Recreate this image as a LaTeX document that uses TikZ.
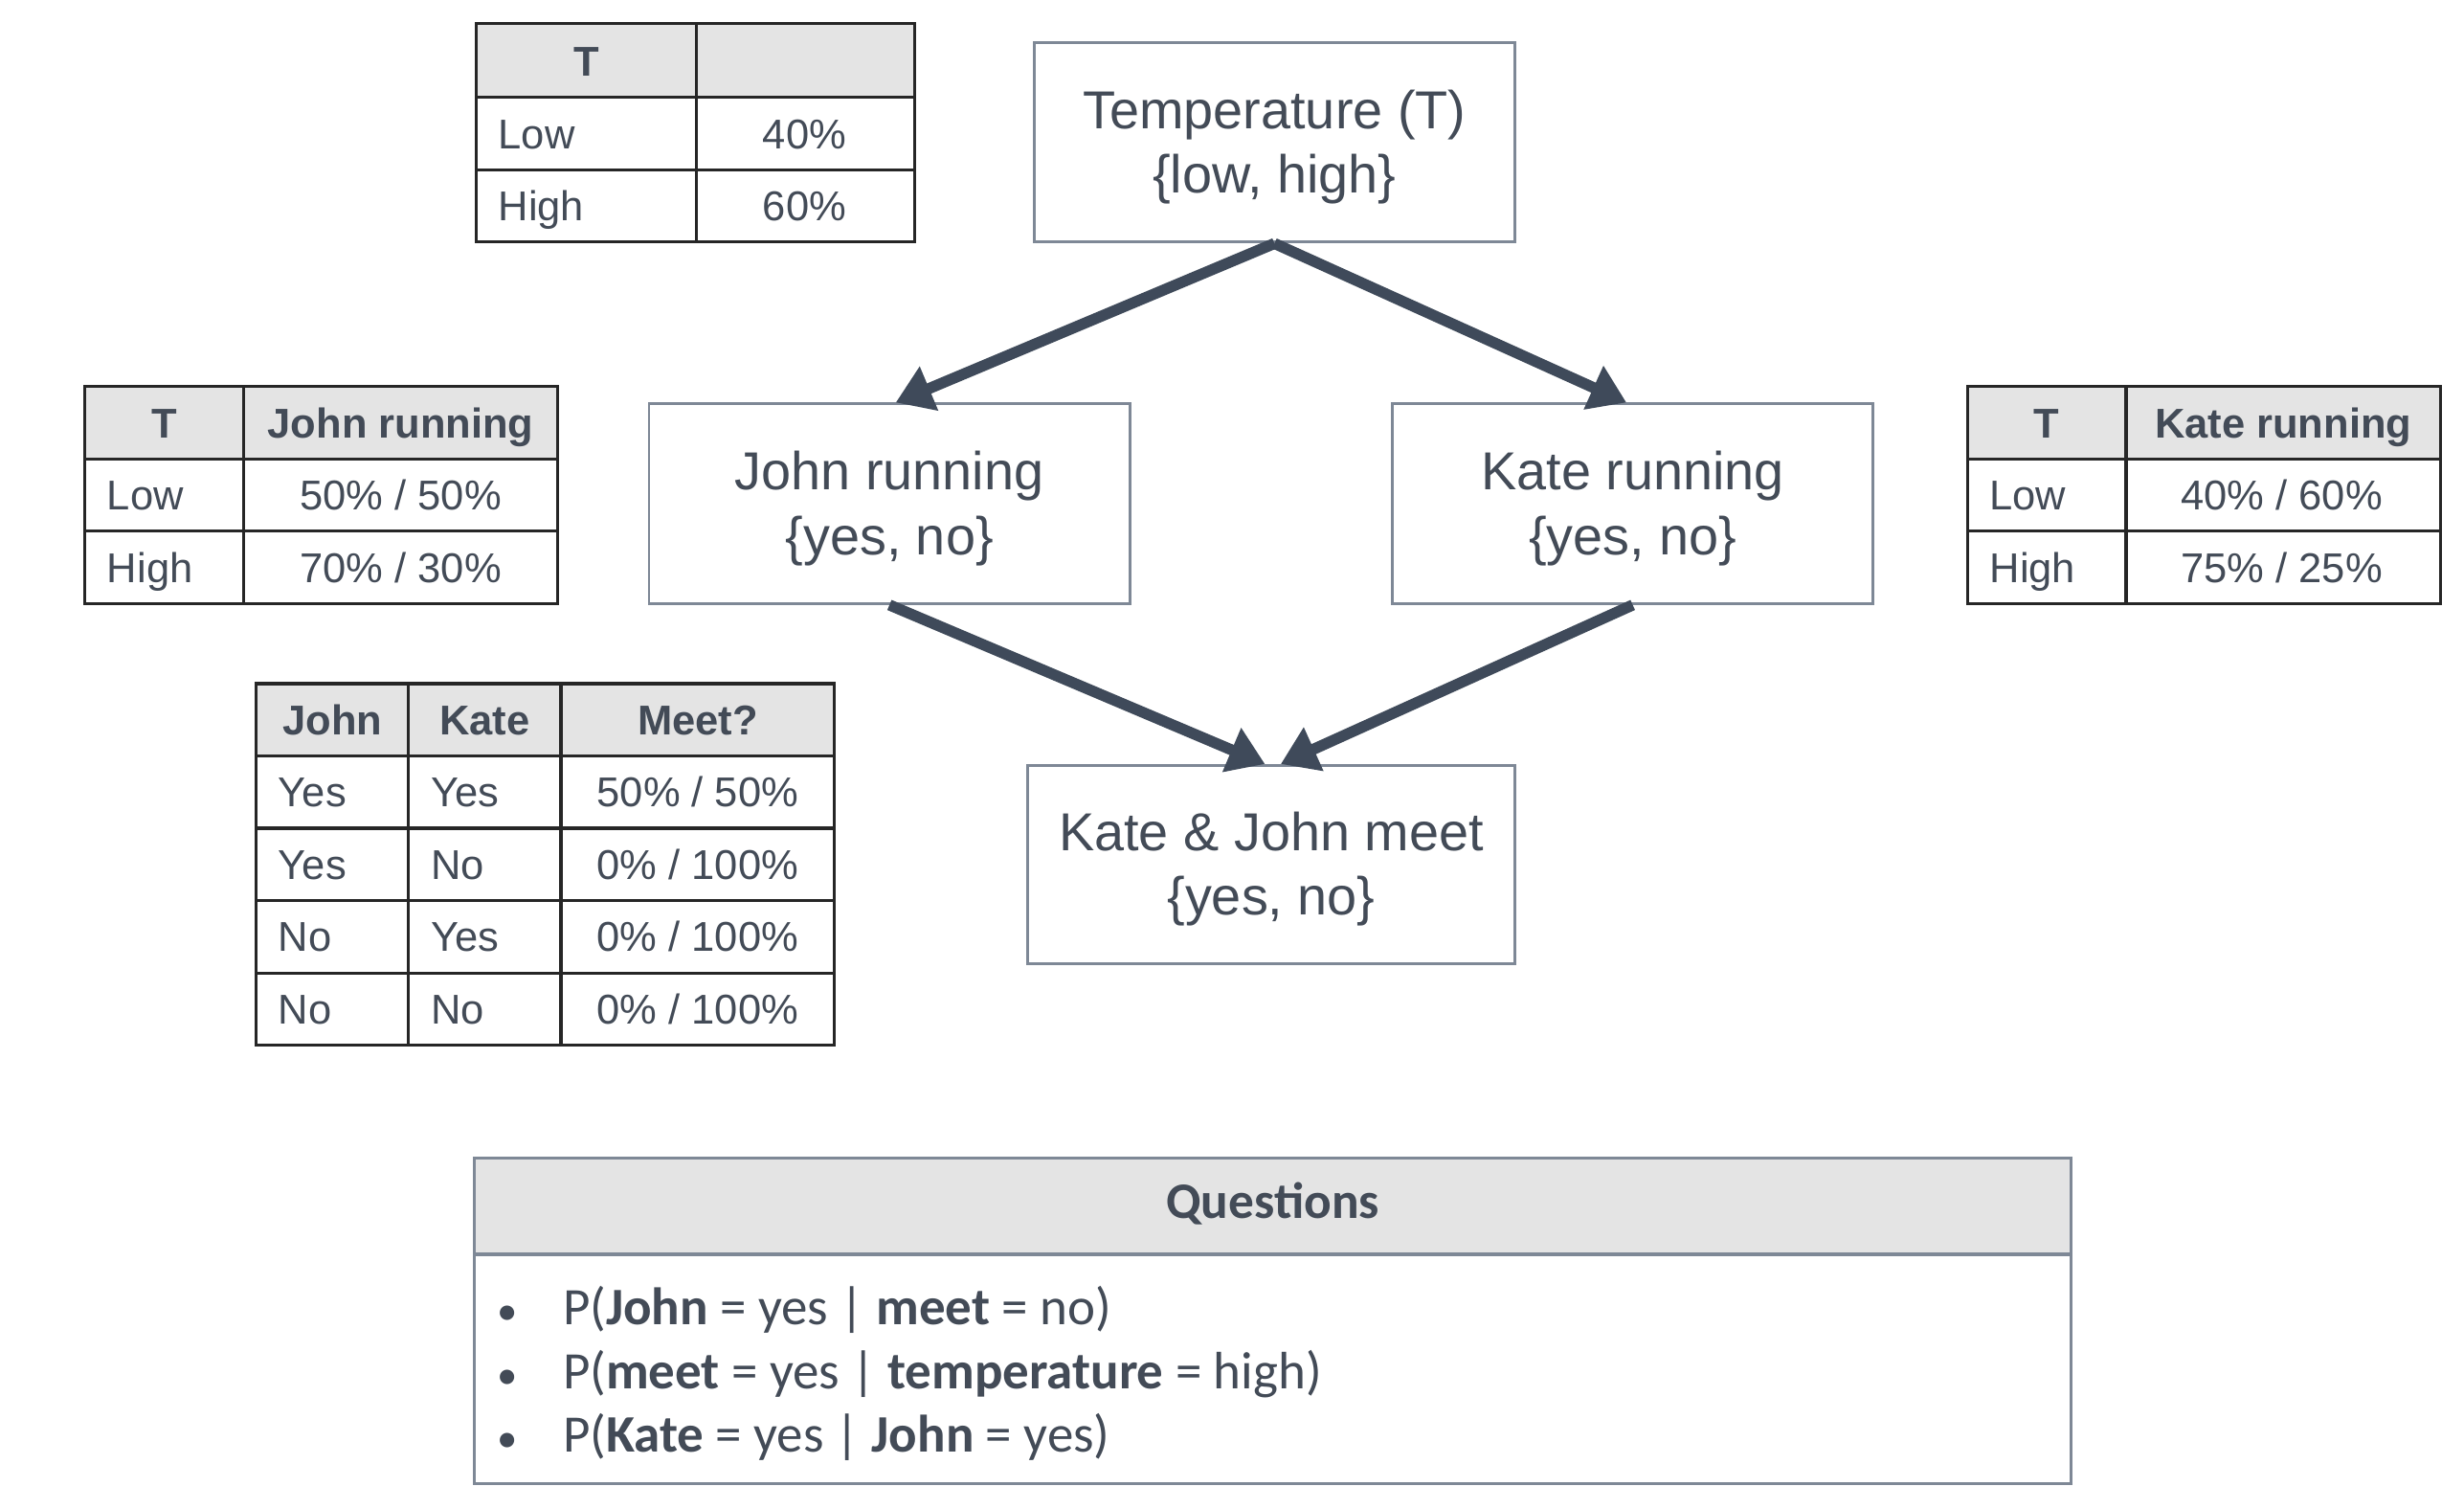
\documentclass[tikz,border=0pt]{standalone}
\usepackage{fontspec}
\setmainfont{Liberation Sans}
\newfontfamily\qfont{Carlito}
\usetikzlibrary{arrows.meta}
\definecolor{txt}{HTML}{434B57}
\definecolor{hdr}{HTML}{E4E4E4}
\definecolor{boxline}{HTML}{7E8896}
\definecolor{arrowc}{HTML}{3F4A5A}
\definecolor{tline}{HTML}{262626}
\tikzset{
  varbox/.style={draw=boxline, line width=1.8pt, fill=white, minimum width=306pt,
    minimum height=127pt, inner sep=0pt},
  vartext/.style={align=center, font=\fontsize{34}{41}\selectfont, text=txt, inner sep=0pt},
  tbl/.style={draw=tline, line width=2pt},
  cellh/.style={font=\fontsize{26.5}{30}\selectfont\bfseries, text=txt, inner sep=0pt, text height=19pt, text depth=0pt},
  cell/.style={font=\fontsize{26.5}{30}\selectfont, text=txt, inner sep=0pt, text height=19pt, text depth=0pt},
  qline/.style={font=\qfont\fontsize{33.5}{40}\selectfont, text=txt, inner sep=0pt, text height=21.5pt, text depth=0pt, anchor=west},
  link/.style={draw=arrowc, line width=7pt, -{Triangle[length=23pt,width=29pt]}},
}
\begin{document}
\begin{tikzpicture}[x=1pt,y=-1pt]
\useasboundingbox[fill=white] (0,0) rectangle (1568,960);

% ---------- variable nodes ----------
\node[varbox] (temp) at (811,90.5) {};
\node[vartext] (tempT) at ([yshift=-3pt]temp.center) {Temperature (T)\\\{low, high\}};
\node[varbox] (john) at (566,320.5) {};
\node[vartext] (johnT) at ([yshift=-3pt]john.center) {John running\\\{yes, no\}};
\node[varbox] (kate) at (1039,320.5) {};
\node[vartext] (kateT) at ([yshift=-3pt]kate.center) {Kate running\\\{yes, no\}};
\node[varbox, minimum width=310pt, minimum height=126pt] (meet) at (809,550) {};
\node[vartext] (meetT) at ([yshift=-3pt]meet.center) {Kate \& John meet\\\{yes, no\}};

% ---------- connectors ----------
\draw[link] (temp.south) -- ([xshift=4pt]john.north);
\draw[link] (temp.south) -- ([xshift=-4pt]kate.north);
\draw[link] (john.south) -- ([xshift=-4pt]meet.north);
\draw[link] (kate.south) -- ([xshift=6pt]meet.north);

% ---------- table: T ----------
\fill[fill=hdr] (303,15) rectangle (582,62);
\draw[tbl] (303,15) rectangle (582,154);
\draw[tbl] (443,15) -- (443,154);
\draw[tbl] (303,62) -- (582,62);
\draw[tbl] (303,108) -- (582,108);
\node[cellh] (tA) at (373,39) {T};
\node[cell, anchor=west] (tB) at (317,85) {Low};
\node[cell] (tC) at (512,85) {40\%};
\node[cell, anchor=west] (tD) at (317,131) {High};
\node[cell] (tE) at (512,131) {60\%};

% ---------- table: John running ----------
\fill[fill=hdr] (54,246) rectangle (355,292);
\draw[tbl] (54,246) rectangle (355,384);
\draw[tbl] (155,246) -- (155,384);
\draw[tbl] (54,292) -- (355,292);
\draw[tbl] (54,338) -- (355,338);
\node[cellh] (jA) at (104.5,269) {T};
\node[cellh] (jB) at (255,269) {John running};
\node[cell, anchor=west] (jC) at (68,315) {Low};
\node[cell] (jD) at (255,315) {50\% / 50\%};
\node[cell, anchor=west] (jE) at (68,361) {High};
\node[cell] (jF) at (255,361) {70\% / 30\%};

% ---------- table: Kate running ----------
\fill[fill=hdr] (1252,246) rectangle (1553,292);
\draw[tbl] (1252,246) rectangle (1553,384);
\draw[tbl] (1353,246) -- (1353,384);
\draw[tbl] (1252,292) -- (1553,292);
\draw[tbl] (1252,338) -- (1553,338);
\node[cellh] (kA) at (1302.5,269) {T};
\node[cellh] (kB) at (1453,269) {Kate running};
\node[cell, anchor=west] (kC) at (1266,315) {Low};
\node[cell] (kD) at (1452,315) {40\% / 60\%};
\node[cell, anchor=west] (kE) at (1266,361) {High};
\node[cell] (kF) at (1452,361) {75\% / 25\%};

% ---------- table: Meet ----------
\fill[fill=hdr] (163,435) rectangle (531,481);
\draw[tbl] (163,435) rectangle (531,665);
\draw[tbl] (260,435) -- (260,665);
\draw[tbl] (357,435) -- (357,665);
\foreach \yy in {481,527,573,619} \draw[tbl] (163,\yy) -- (531,\yy);
\node[cellh] (mA) at (211.5,458) {John};
\node[cellh] (mB) at (308.5,458) {Kate};
\node[cellh] (mC) at (444,458) {Meet?};
\node[cell, anchor=west] (m1a) at (177,504) {Yes};
\node[cell, anchor=west] (m1b) at (274,504) {Yes};
\node[cell] (m1c) at (444,504) {50\% / 50\%};
\node[cell, anchor=west] (m2a) at (177,550) {Yes};
\node[cell, anchor=west] (m2b) at (274,550) {No};
\node[cell] (m2c) at (444,550) {0\% / 100\%};
\node[cell, anchor=west] (m3a) at (177,596) {No};
\node[cell, anchor=west] (m3b) at (274,596) {Yes};
\node[cell] (m3c) at (444,596) {0\% / 100\%};
\node[cell, anchor=west] (m4a) at (177,642) {No};
\node[cell, anchor=west] (m4b) at (274,642) {No};
\node[cell] (m4c) at (444,642) {0\% / 100\%};

% ---------- Questions ----------
\fill[fill=hdr] (302,737) rectangle (1318,798);
\draw[draw=boxline, line width=2pt] (302,737) rectangle (1318,944);
\draw[draw=boxline, line width=2pt] (302,798) -- (1318,798);
\node[font=\qfont\bfseries\fontsize{32.5}{38}\selectfont, text=txt, inner sep=0pt] (qh) at (810,766) {Questions};
\node[qline, font=\qfont\fontsize{26}{30}\selectfont] (b1) at (316,832) {•};
\node[qline, font=\qfont\fontsize{26}{30}\selectfont] (b2) at (316,873) {•};
\node[qline, font=\qfont\fontsize{26}{30}\selectfont] (b3) at (316,913) {•};
\node[qline] (q1) at (358,832) {P(\textbf{John} = yes | \textbf{meet} = no)};
\node[qline] (q2) at (358,873) {P(\textbf{meet} = yes | \textbf{temperature} = high)};
\node[qline] (q3) at (358,913) {P(\textbf{Kate} = yes | \textbf{John} = yes)};
\end{tikzpicture}
\end{document}
